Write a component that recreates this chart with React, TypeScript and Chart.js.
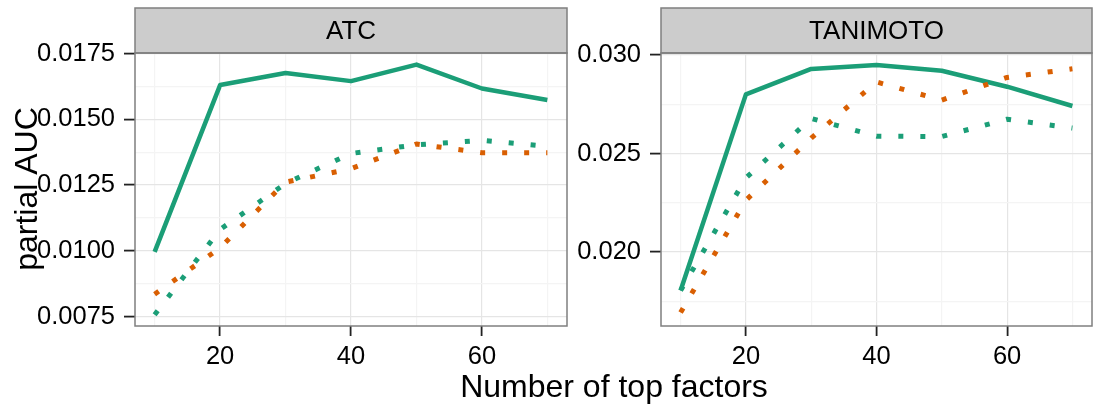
import React, { useEffect, useRef } from 'react';
import { Chart, registerables } from 'chart.js';

Chart.register(...registerables);

// ---- data ----
const xValues = [10, 20, 30, 40, 50, 60, 70];
const xGridValues = [10, 20, 30, 40, 50, 60, 70];
const xMajorTicks = [20, 40, 60];
const xTickLabels = ['20', '40', '60'];

const atcSolidGreen = [0.00996, 0.0163, 0.01676, 0.01645, 0.01708, 0.01617, 0.01573];
const atcDottedGreen = [0.00757, 0.01081, 0.01256, 0.0137, 0.01403, 0.0142, 0.01397];
const atcDottedOrange = [0.00835, 0.01011, 0.01261, 0.01312, 0.01406, 0.01373, 0.01373];

const tanSolidGreen = [0.01805, 0.028, 0.02929, 0.02949, 0.0292, 0.02839, 0.02741];
const tanDottedGreen = [0.01805, 0.02376, 0.02678, 0.02588, 0.02586, 0.02674, 0.02629];
const tanDottedOrange = [0.01693, 0.02263, 0.02578, 0.02863, 0.02771, 0.02886, 0.0293];

const atcYMajor = [0.0075, 0.01, 0.0125, 0.015, 0.0175];
const atcYLabels = ['0.0075', '0.0100', '0.0125', '0.0150', '0.0175'];
const atcYMinor = [0.00875, 0.01125, 0.01375, 0.01625];

const tanYMajor = [0.02, 0.025, 0.03];
const tanYLabels = ['0.020', '0.025', '0.030'];
const tanYMinor = [0.0175, 0.0225, 0.0275];

const panelTitles = ['ATC', 'TANIMOTO'];
const xTitle = 'Number of top factors';
const yTitle = 'partial AUC';

// ---- styles ----
const GREEN = '#1B9E77';
const ORANGE = '#D95F02';
const FONT = '"Liberation Sans", Arial, Helvetica, sans-serif';
const MAJOR_GRID = '#E5E5E5';
const MINOR_GRID = '#F4F4F4';
const FRAME = '#7F7F7F';
const TICK_FONT = 25.5;
const STRIP_FONT = 26;
const TITLE_FONT = 32;

const isIn = (arr: number[], v: number) => arr.some((m) => Math.abs(m - v) < 1e-9);

const decoPlugin = {
  id: 'deco',
  afterDraw(chart: any, _args: any, opts: any) {
    const { ctx } = chart;
    const { left, right, top, bottom } = chart.chartArea;
    ctx.save();
    // strip
    ctx.fillStyle = '#CCCCCC';
    ctx.fillRect(left, 8, right - left, top - 8);
    ctx.strokeStyle = FRAME;
    ctx.lineWidth = 1.5;
    ctx.strokeRect(left, 8, right - left, top - 8);
    ctx.fillStyle = '#000';
    ctx.font = `${STRIP_FONT}px ${FONT}`;
    ctx.textAlign = 'center';
    ctx.textBaseline = 'middle';
    ctx.fillText(opts.label, (left + right) / 2, (8 + top) / 2 + 1);
    // panel border
    ctx.strokeStyle = FRAME;
    ctx.lineWidth = 1.5;
    ctx.strokeRect(left, top, right - left, bottom - top);
    if (opts.titles) {
      ctx.fillStyle = '#000';
      ctx.font = `${TITLE_FONT}px ${FONT}`;
      ctx.textAlign = 'center';
      ctx.textBaseline = 'alphabetic';
      ctx.fillText(xTitle, 614, 397);
      ctx.save();
      ctx.translate(37, 189);
      ctx.rotate(-Math.PI / 2);
      ctx.fillText(yTitle, 0, 0);
      ctx.restore();
    }
    ctx.restore();
  },
};

function makeConfig(opts: {
  solid: number[];
  dotGreen: number[];
  dotOrange: number[];
  yMin: number;
  yMax: number;
  yMajor: number[];
  yLabels: string[];
  yMinor: number[];
  padLeft: number;
  yWidth: number;
  padRight: number;
  label: string;
  titles: boolean;
}): any {
  const pts = (arr: number[]) => xValues.map((x, i) => ({ x, y: arr[i] }));
  const dotted = { borderWidth: 5, borderDash: [5, 17], borderCapStyle: 'butt', borderJoinStyle: 'round' };
  const yAll = [...opts.yMajor, ...opts.yMinor].sort((a, b) => a - b);
  return {
    type: 'line',
    data: {
      datasets: [
        { data: pts(opts.dotOrange), borderColor: ORANGE, order: 0, ...dotted },
        { data: pts(opts.dotGreen), borderColor: GREEN, order: 1, ...dotted },
        { data: pts(opts.solid), borderColor: GREEN, order: 2, borderWidth: 4.5, borderJoinStyle: 'round' },
      ],
    },
    options: {
      animation: false,
      responsive: false,
      maintainAspectRatio: false,
      devicePixelRatio: 1,
      layout: { padding: { left: opts.padLeft, right: opts.padRight, top: 53, bottom: 0 } },
      plugins: {
        legend: { display: false },
        tooltip: { enabled: false },
        deco: { label: opts.label, titles: opts.titles },
      },
      elements: { point: { radius: 0 }, line: { tension: 0, fill: false } },
      scales: {
        x: {
          type: 'linear',
          min: 7,
          max: 73,
          afterBuildTicks: (s: any) => {
            s.ticks = xGridValues.map((v) => ({ value: v }));
          },
          afterFit: (s: any) => {
            s.height = 79;
          },
          border: { display: false },
          grid: {
            color: (c: any) => (isIn(xMajorTicks, c.tick?.value) ? MAJOR_GRID : MINOR_GRID),
            lineWidth: 1.2,
            drawTicks: true,
            tickLength: 10,
            tickWidth: 1.8,
            tickColor: (c: any) => (isIn(xMajorTicks, c.tick?.value) ? '#222' : 'rgba(0,0,0,0)'),
          },
          ticks: {
            autoSkip: false,
            maxRotation: 0,
            padding: 6,
            color: '#000',
            font: { family: FONT, size: TICK_FONT },
            callback: (v: number) => {
              const i = xMajorTicks.findIndex((m) => Math.abs(m - v) < 1e-9);
              return i >= 0 ? xTickLabels[i] : '';
            },
          },
        },
        y: {
          type: 'linear',
          min: opts.yMin,
          max: opts.yMax,
          afterBuildTicks: (s: any) => {
            s.ticks = yAll.map((v) => ({ value: v }));
          },
          afterFit: (s: any) => {
            s.width = opts.yWidth;
          },
          border: { display: false },
          grid: {
            color: (c: any) => (isIn(opts.yMajor, c.tick?.value) ? MAJOR_GRID : MINOR_GRID),
            lineWidth: 1.2,
            drawTicks: true,
            tickLength: 11,
            tickWidth: 1.8,
            tickColor: (c: any) => (isIn(opts.yMajor, c.tick?.value) ? '#222' : 'rgba(0,0,0,0)'),
          },
          ticks: {
            autoSkip: false,
            padding: 9,
            color: '#000',
            font: { family: FONT, size: TICK_FONT },
            callback: (v: number) => {
              const i = opts.yMajor.findIndex((m) => Math.abs(m - v) < 1e-9);
              return i >= 0 ? opts.yLabels[i] : '';
            },
          },
        },
      },
    },
    plugins: [decoPlugin],
  };
}

export default function App() {
  const ref1 = useRef<HTMLCanvasElement>(null);
  const ref2 = useRef<HTMLCanvasElement>(null);

  useEffect(() => {
    const c1 = new Chart(
      ref1.current as HTMLCanvasElement,
      makeConfig({
        solid: atcSolidGreen,
        dotGreen: atcDottedGreen,
        dotOrange: atcDottedOrange,
        yMin: 0.00714,
        yMax: 0.01752,
        yMajor: atcYMajor,
        yLabels: atcYLabels,
        yMinor: atcYMinor,
        padLeft: 0,
        yWidth: 135,
        padRight: 1094 - 567,
        label: panelTitles[0],
        titles: true,
      })
    );
    const c2 = new Chart(
      ref2.current as HTMLCanvasElement,
      makeConfig({
        solid: tanSolidGreen,
        dotGreen: tanDottedGreen,
        dotOrange: tanDottedOrange,
        yMin: 0.01625,
        yMax: 0.0301,
        yMajor: tanYMajor,
        yLabels: tanYLabels,
        yMinor: tanYMinor,
        padLeft: 561,
        yWidth: 100,
        padRight: 2,
        label: panelTitles[1],
        titles: false,
      })
    );
    return () => {
      c1.destroy();
      c2.destroy();
    };
  }, []);

  const cs: React.CSSProperties = { position: 'absolute', left: 0, top: 0, width: 1094, height: 405 };
  return (
    <div style={{ position: 'fixed', left: 0, top: 0, width: 1094, height: 405, background: '#fff' }}>
      <canvas ref={ref1} width={1094} height={405} style={cs} />
      <canvas ref={ref2} width={1094} height={405} style={cs} />
    </div>
  );
}
